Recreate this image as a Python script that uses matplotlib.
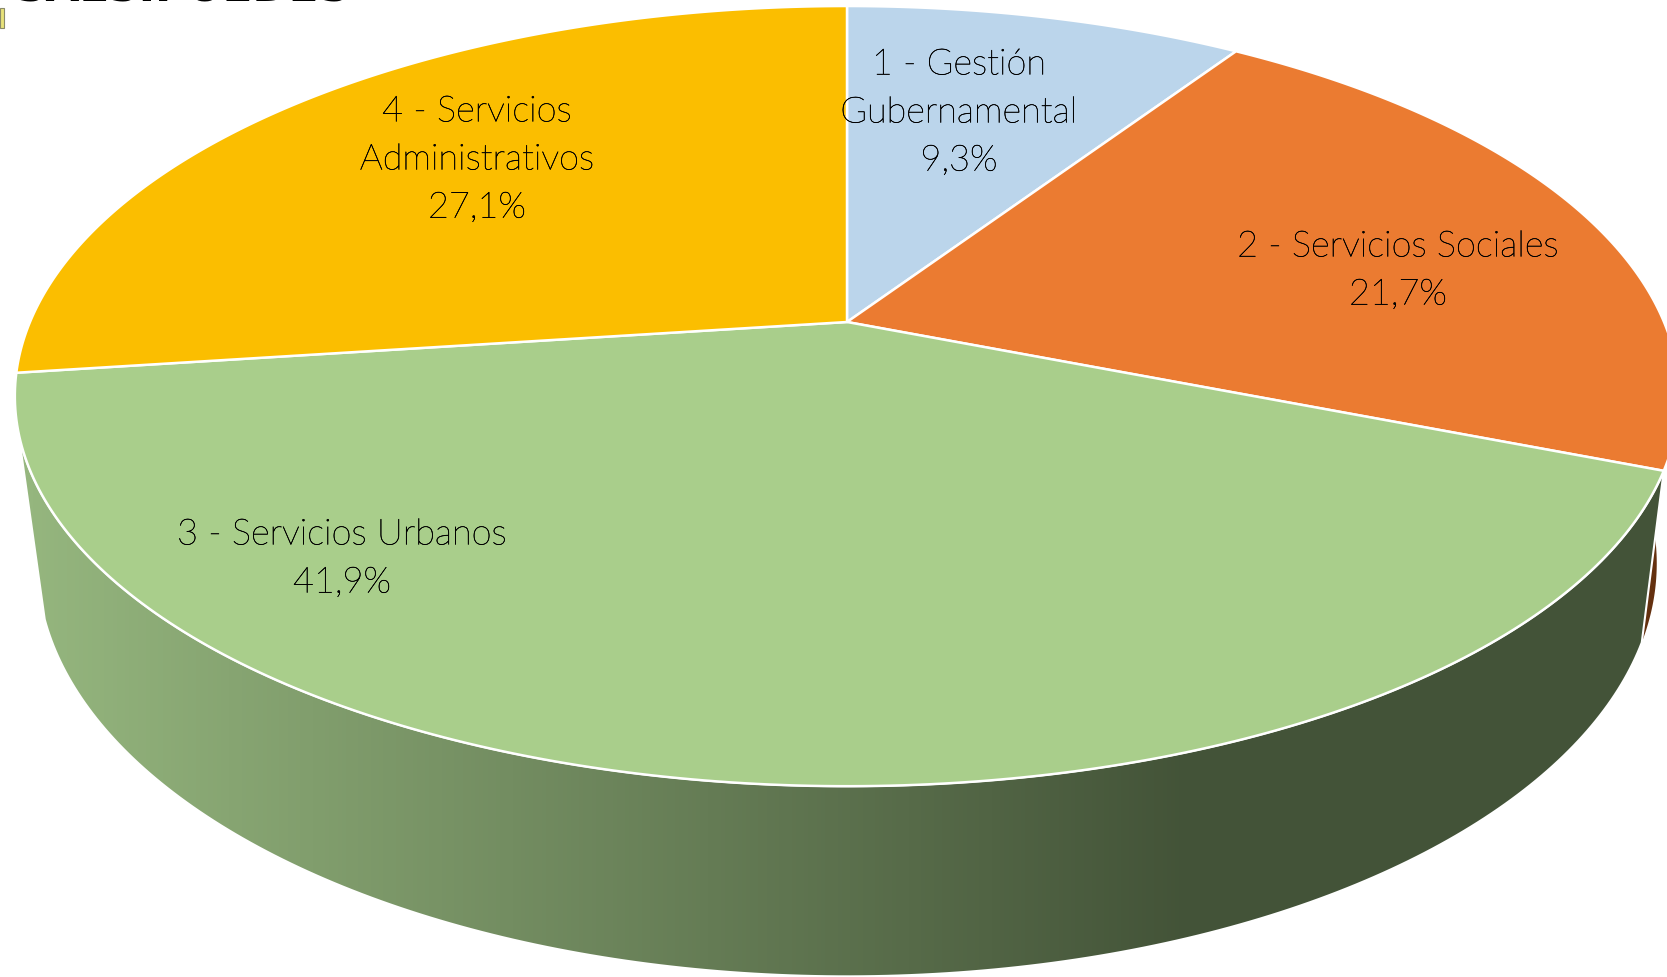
import numpy as np
import matplotlib.pyplot as plt
import matplotlib.patheffects as pe
from matplotlib.patches import Polygon

labels = ["1 - Gestión\nGubernamental\n9,3%", "2 - Servicios Sociales\n21,7%",
          "3 - Servicios Urbanos\n41,9%", "4 - Servicios\nAdministrativos\n27,1%"]
shares = [9.3, 21.7, 41.9, 27.1]
colors = ["#BBD5EB", "#EB7B31", "#A9CE8B", "#FBBE00"]
label_x = [959, 1398, 342, 477]
label_y = [113, 271, 559, 160]
title = "SALSIPUEDES"

CX, CY, A, B, K = 847, 322, 817, 376, 0.19
CY2, A2, B2, K2 = 485, 795, 398, 0.19
WALL_END_TOP = np.radians(254)
WALL_END_LOW = np.radians(251.5)


def top_disc(theta):
    u, v = np.sin(theta), np.cos(theta)
    w = 1 + K * v
    return CX + A * u / w, CY - B * v / w


def low_disc(theta):
    u, v = np.sin(theta), np.cos(theta)
    w = 1 + K2 * v
    return CX + A2 * u / w, CY2 - B2 * v / w


fig = plt.figure(figsize=(16.67, 9.77), dpi=100)
ax = fig.add_axes([0, 0, 1, 1])
ax.set_xlim(0, 1667)
ax.set_ylim(977, 0)
ax.axis("off")

edges = np.radians(np.cumsum([0] + shares) * 3.6)

# side wall of the orange slice
t = np.linspace(np.radians(95), edges[2], 40)
xa, ya = top_disc(t)
xb, yb = low_disc(t[::-1])
ax.add_patch(Polygon(np.c_[np.r_[xa, xb], np.r_[ya, yb]], fc="#64300F", ec="none", zorder=1))

# side wall of the green slice, gradient left to right
xa, ya = top_disc(np.linspace(edges[2], WALL_END_TOP, 200))
xb, yb = low_disc(np.linspace(WALL_END_LOW, edges[2], 200))
wall = Polygon(np.c_[np.r_[xa, xb], np.r_[ya, yb]], fc="none", ec="white", lw=1.5, zorder=3)
ax.add_patch(wall)
grad = np.clip((np.linspace(0, 1667, 400) - 30) / (1190 - 30), 0, 1)[None, :, None]
c0, c1 = np.array([0x95, 0xB6, 0x7E]) / 255, np.array([0x43, 0x53, 0x38]) / 255
img = ax.imshow(c0 + (c1 - c0) * grad, extent=[0, 1667, 977, 0], aspect="auto", zorder=2)
img.set_clip_path(wall)

# top faces
for i, c in enumerate(colors):
    t = np.linspace(edges[i], edges[i + 1], 200)
    x, y = top_disc(t)
    ax.add_patch(Polygon(np.c_[np.r_[CX, x], np.r_[CY, y]], fc=c, ec="white", lw=1.8, zorder=4))

for s, x, y in zip(labels, label_x, label_y):
    ax.text(x, y, s, ha="center", va="center", fontsize=26, family="Lato", weight="light",
            linespacing=1.58, color="black", zorder=5,
            path_effects=[pe.withStroke(linewidth=0.35, foreground="black")])

ax.text(15, 10, title, ha="left", va="bottom", fontsize=31.5, family="DejaVu Sans", weight="bold", color="black")
ax.add_patch(Polygon([[0, 8], [4, 8], [4, 28], [0, 28]], fc="#E8E27A", ec="#8A8A6A", lw=0.8))

fig.savefig("out.png", dpi=100)
